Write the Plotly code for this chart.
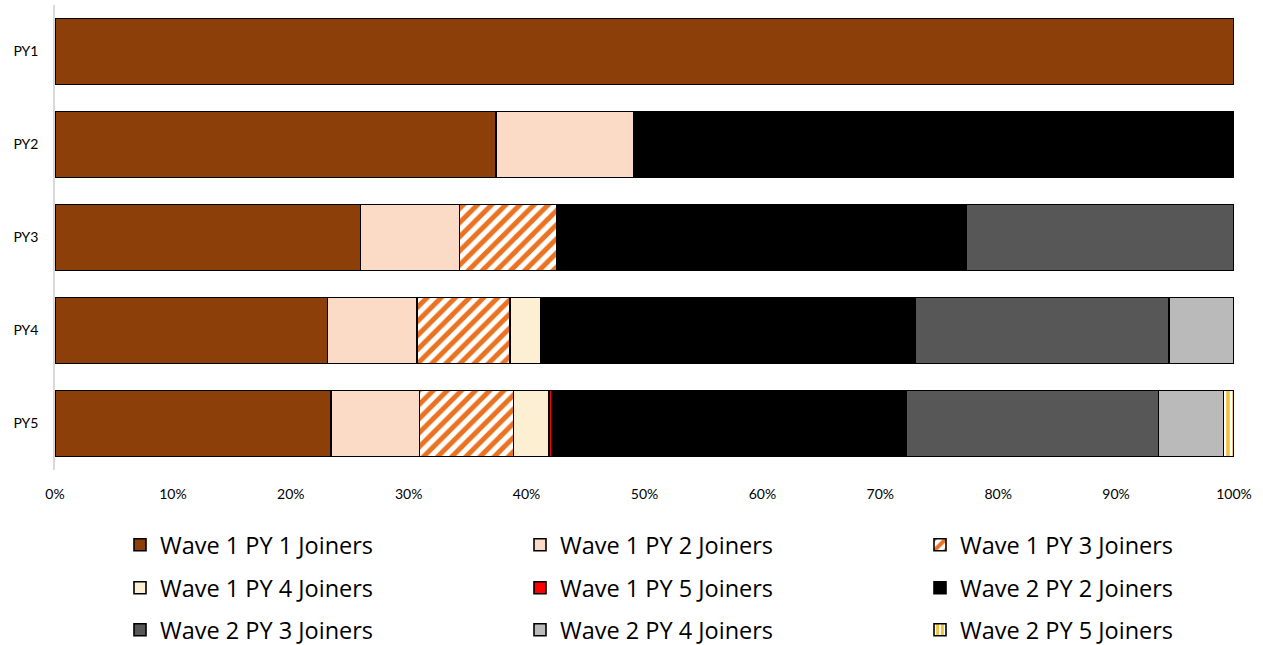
import plotly.graph_objects as go

# Programme years shown as bars (top to bottom)
years = ["PY1", "PY2", "PY3", "PY4", "PY5"]

# Share of participants (%) by joining cohort, one list per series
w1_py1 = [100.0, 37.4, 25.9, 23.1, 23.4]
w1_py2 = [0.0, 11.7, 8.4, 7.6, 7.5]
w1_py3 = [0.0, 0.0, 8.3, 7.9, 8.0]
w1_py4 = [0.0, 0.0, 0.0, 2.6, 3.0]
w1_py5 = [0.0, 0.0, 0.0, 0.0, 0.2]
w2_py2 = [0.0, 50.9, 34.7, 31.8, 30.1]
w2_py3 = [0.0, 0.0, 22.7, 21.5, 21.4]
w2_py4 = [0.0, 0.0, 0.0, 5.5, 5.5]
w2_py5 = [0.0, 0.0, 0.0, 0.0, 0.9]

tick_vals = [0, 10, 20, 30, 40, 50, 60, 70, 80, 90, 100]
tick_text = [f"{v}%" for v in tick_vals]

FONT = "Lato"
LEGEND_FONT = "Open Sans"
W, H = 1263, 645

series = [
    ("Wave 1 PY 1 Joiners", w1_py1, dict(color="#8C3F08")),
    ("Wave 1 PY 2 Joiners", w1_py2, dict(color="#FBDBC5")),
    ("Wave 1 PY 3 Joiners", w1_py3,
     dict(color="#FFFFFF", pattern=dict(shape="/", fgcolor="#EA7322", bgcolor="#FFFFFF",
                                        fgopacity=1, size=10, solidity=0.5))),
    ("Wave 1 PY 4 Joiners", w1_py4, dict(color="#FDF0D2")),
    ("Wave 1 PY 5 Joiners", w1_py5, dict(color="#FF0000")),
    ("Wave 2 PY 2 Joiners", w2_py2, dict(color="#000000")),
    ("Wave 2 PY 3 Joiners", w2_py3, dict(color="#575757")),
    ("Wave 2 PY 4 Joiners", w2_py4, dict(color="#BABABA")),
    ("Wave 2 PY 5 Joiners", w2_py5,
     dict(color="#FFFFFF", pattern=dict(shape="|", fgcolor="#F2C23C", bgcolor="#FFFFFF",
                                        fgopacity=1, size=6, solidity=0.6))),
]

# legend grid: 3 columns x 3 rows, one legend box per entry
col_x = [120, 520, 920]
row_y = [545, 588, 630]

fig = go.Figure()
legends = {}
for i, (name, vals, mk) in enumerate(series):
    key = "legend" if i == 0 else f"legend{i + 1}"
    fig.add_trace(go.Bar(
        name=name, y=years, x=vals, orientation="h",
        marker=dict(**mk, line=dict(color="#000000", width=1.6)),
        legend=key, hoverinfo="x+name",
    ))
    legends[key] = dict(
        orientation="h", xanchor="left", yanchor="middle",
        xref="container", yref="container",
        x=col_x[i % 3] / W, y=1 - row_y[i // 3] / H,
        font=dict(family=LEGEND_FONT, size=23.5, color="#000000"),
        bgcolor="rgba(0,0,0,0)",
    )

fig.update_layout(
    width=W, height=H,
    barmode="stack", bargap=0.29,
    plot_bgcolor="#FFFFFF", paper_bgcolor="#FFFFFF",
    margin=dict(l=55, r=29, t=5, b=175, autoexpand=False),
    font=dict(family=FONT, size=14, color="#000000"),
    xaxis=dict(range=[0, 100], tickvals=tick_vals, ticktext=tick_text,
               showgrid=False, zeroline=False, showline=False, ticks="",
               ticklabelstandoff=14, tickfont=dict(size=14, family=FONT)),
    yaxis=dict(autorange="reversed", showgrid=False, zeroline=False,
               showline=True, linecolor="#D9D9D9", linewidth=1.5, ticks="",
               ticklabelstandoff=12, tickfont=dict(size=14, family=FONT)),
    showlegend=True,
    **legends,
)

fig.write_html("out.html")
